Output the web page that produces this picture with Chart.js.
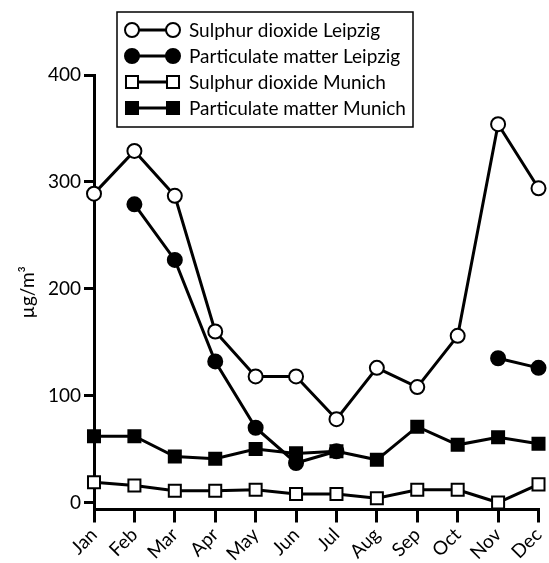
<!DOCTYPE html>
<html>
<head>
<meta charset="utf-8">
<script src="https://cdn.jsdelivr.net/npm/chart.js@4.4.0/dist/chart.umd.min.js"></script>
<style>
  body { margin: 0; background: #fff; }
  #wrap { width: 549px; height: 563px; }
</style>
</head>
<body>
<div id="wrap"><canvas id="airChart"></canvas></div>
<script>
var months = ['Jan', 'Feb', 'Mar', 'Apr', 'May', 'Jun', 'Jul', 'Aug', 'Sep', 'Oct', 'Nov', 'Dec'];
var yTicks = [0, 100, 200, 300, 400];

var so2Leipzig = [289, 329, 287, 160, 118, 118, 78, 126, 108, 156, 354, 294];
var pmLeipzig = [null, 279, 227, 132, 70, 37, 48, null, null, null, 135, 126];
var so2Munich = [19, 16, 11, 11, 12, 8, 8, 4, 12, 12, 0, 17];
var pmMunich = [62, 62, 43, 41, 50, 46, 48, 40, 71, 54, 61, 55];

var fontFamily = 'Lato, "DejaVu Sans", sans-serif';

function series(label, values, style, fill, radius) {
    return {
        label: label,
        data: values,
        borderColor: '#000',
        backgroundColor: fill,
        borderWidth: 3,
        pointStyle: style,
        pointRadius: radius,
        pointBorderWidth: 2,
        pointBackgroundColor: fill,
        pointBorderColor: '#000',
        tension: 0,
        spanGaps: false,
        clip: false
    };
}

// legend drawn as a box with a line and two markers per entry
var boxLegend = {
    id: 'boxLegend',
    afterDraw: function (chart) {
        var ctx = chart.ctx;
        ctx.save();
        ctx.lineWidth = 1.5;
        ctx.strokeStyle = '#000';
        ctx.fillStyle = '#fff';
        ctx.fillRect(117, 12, 296, 115);
        ctx.strokeRect(117, 12, 296, 115);
        chart.data.datasets.forEach(function (ds, i) {
            var y = 30 + i * 26;
            ctx.strokeStyle = '#000';
            ctx.lineWidth = ds.borderWidth;
            ctx.beginPath();
            ctx.moveTo(132, y);
            ctx.lineTo(173, y);
            ctx.stroke();
            ctx.fillStyle = ds.pointBackgroundColor;
            ctx.lineWidth = ds.pointBorderWidth;
            [132, 173].forEach(function (x) {
                Chart.helpers.drawPoint(ctx, {
                    pointStyle: ds.pointStyle,
                    radius: ds.pointRadius,
                    rotation: 0,
                    borderWidth: ds.pointBorderWidth
                }, x, y);
            });
            ctx.fillStyle = '#000';
            ctx.font = '19px ' + fontFamily;
            ctx.textBaseline = 'middle';
            ctx.textAlign = 'left';
            ctx.fillText(ds.label, 189, y + 1);
        });
        ctx.restore();
    }
};

var ctx = document.getElementById('airChart').getContext('2d');

var airChart = new Chart(ctx, {
    type: 'line',
    data: {
        labels: months,
        datasets: [
            series('Sulphur dioxide Leipzig', so2Leipzig, 'circle', '#fff', 7),
            series('Particulate matter Leipzig', pmLeipzig, 'circle', '#000', 7),
            series('Sulphur dioxide Munich', so2Munich, 'rect', '#fff', 8.5),
            series('Particulate matter Munich', pmMunich, 'rect', '#000', 8.5)
        ]
    },
    options: {
        responsive: true,
        maintainAspectRatio: false,
        animation: false,
        layout: { padding: { top: 75, right: 4, left: 0, bottom: 0 } },
        plugins: {
            legend: { display: false },
            tooltip: { enabled: false }
        },
        scales: {
            x: {
                offset: false,
                grid: { drawOnChartArea: false, tickLength: 13, color: '#000', lineWidth: 3 },
                border: { display: true, color: '#000', width: 3 },
                ticks: {
                    color: '#000',
                    autoSkip: false,
                    minRotation: 45,
                    maxRotation: 45,
                    padding: 1,
                    font: { family: fontFamily, size: 19 }
                },
                afterFit: function (s) {
                    s.height = 53.5;
                    s.paddingLeft = 0;
                    s.paddingRight = 0;
                }
            },
            y: {
                min: -6.5,
                max: 400,
                afterBuildTicks: function (s) {
                    s.ticks = yTicks.map(function (v) { return { value: v }; });
                },
                grid: { drawOnChartArea: false, tickLength: 10, color: '#000', lineWidth: 3 },
                border: { display: true, color: '#000', width: 3 },
                ticks: {
                    color: '#000',
                    padding: 3,
                    font: { family: fontFamily, size: 19 }
                },
                title: {
                    display: true,
                    text: 'µg/m³',
                    color: '#000',
                    padding: { top: 16, bottom: 0 },
                    font: { family: fontFamily, size: 19 }
                },
                afterFit: function (s) {
                    s.width = 94;
                }
            }
        }
    },
    plugins: [boxLegend]
});
</script>
</body>
</html>
